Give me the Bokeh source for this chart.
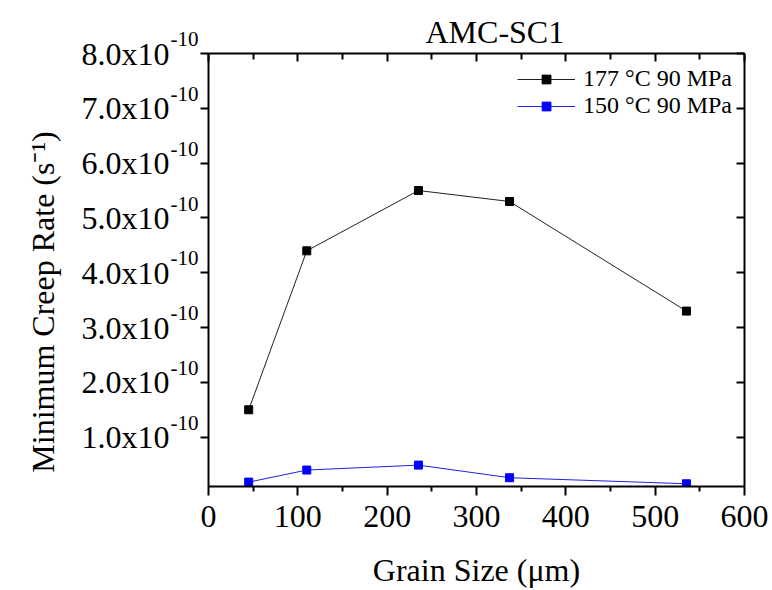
from bokeh.plotting import figure
from bokeh.models import (LinearAxis, FixedTicker, Range1d, Legend, LegendItem)
from bokeh.embed import file_html
from bokeh.resources import INLINE

# ---- data (rates in units of 1e-10 s^-1) ----
grain_size = [45, 110, 235, 337, 535]
rate_177 = [1.5, 4.4, 5.5, 5.3, 3.3]
rate_150 = [0.18, 0.40, 0.49, 0.26, 0.15]
series_names = ["177 \u00b0C 90 MPa", "150 \u00b0C 90 MPa"]

x_ticks = [0, 100, 200, 300, 400, 500, 600]
x_minor_ticks = [50, 150, 250, 350, 450, 550]
y_ticks = [1, 2, 3, 4, 5, 6, 7, 8]
y_tick_labels = ["1.0x10", "2.0x10", "3.0x10", "4.0x10", "5.0x10", "6.0x10", "7.0x10", "8.0x10"]
y_tick_exponent = "-10"

title_text = "AMC-SC1"
x_label = "Grain Size (\u03bcm)"
y_label = "Minimum Creep Rate (s\u207b\u00b9)" + "\u00a0" * 8

FONT = "Liberation Serif"
BIG = "32px"

p = figure(width=772, height=590, x_range=Range1d(0, 600), y_range=Range1d(0.1, 8),
           toolbar_location=None, output_backend="svg",
           min_border_left=208, min_border_right=28, min_border_top=53, min_border_bottom=104)
p.outline_line_color = None
p.xgrid.visible = False
p.ygrid.visible = False
p.background_fill_color = "white"
p.border_fill_color = "white"

p.title.text = title_text
p.title.align = "left"
p.title.offset = 217
p.title.vertical_align = "top"
p.title.text_font = FONT
p.title.text_font_size = BIG
p.title.text_font_style = "normal"
p.title.text_color = "black"
p.title.standoff = 4

xt = FixedTicker(ticks=x_ticks, minor_ticks=x_minor_ticks)
yt = FixedTicker(ticks=y_ticks, minor_ticks=[])

def style_axis(ax):
    ax.axis_line_width = 2
    ax.axis_line_color = "black"
    ax.major_tick_line_width = 2
    ax.minor_tick_line_width = 2
    ax.major_tick_line_color = "black"
    ax.minor_tick_line_color = "black"
    ax.major_label_text_font = FONT
    ax.major_label_text_font_size = BIG
    ax.major_label_text_color = "black"
    ax.axis_label_text_font = FONT
    ax.axis_label_text_font_size = BIG
    ax.axis_label_text_font_style = "normal"
    ax.axis_label_text_color = "black"

xa = p.xaxis[0]
xa.ticker = xt
style_axis(xa)
xa.major_tick_out = 9
xa.major_tick_in = 0
xa.minor_tick_out = 5
xa.minor_tick_in = 0
xa.major_label_standoff = 10
xa.axis_label = x_label
xa.axis_label_standoff = 22

# inner left axis: axis line, ticks and the exponent part of the tick labels
ya = p.yaxis[0]
ya.ticker = yt
style_axis(ya)
ya.major_tick_out = 8
ya.major_tick_in = 0
ya.minor_tick_line_color = None
ya.major_label_standoff = 2
ya.major_label_text_font_size = "21px"
ya.major_label_overrides = {t: y_tick_exponent + "\n" for t in y_ticks}

# outer left axis: mantissa part of the tick labels and the axis title
ya2 = LinearAxis(ticker=yt)
style_axis(ya2)
ya2.axis_line_color = None
ya2.major_tick_line_color = None
ya2.minor_tick_line_color = None
ya2.major_tick_out = 0
ya2.major_tick_in = 0
ya2.major_label_standoff = -2
ya2.major_label_overrides = {t: s for t, s in zip(y_ticks, y_tick_labels)}
ya2.axis_label = y_label
ya2.axis_label_standoff = 18
p.add_layout(ya2, "left")

top = LinearAxis(ticker=xt)
style_axis(top)
top.major_label_text_color = None
top.major_label_text_font_size = "1px"
top.major_label_standoff = 0
top.major_tick_in = 8
top.major_tick_out = 0
top.minor_tick_in = 6
top.minor_tick_out = 0
p.add_layout(top, "above")

right = LinearAxis(ticker=yt)
style_axis(right)
right.major_label_text_color = None
right.major_label_text_font_size = "1px"
right.major_label_standoff = 0
right.major_tick_in = 8
right.major_tick_out = 0
right.minor_tick_line_color = None
p.add_layout(right, "right")

l1 = p.line(grain_size, rate_177, line_color="#202020", line_width=1)
s1 = p.scatter(grain_size, rate_177, marker="square", size=8, fill_color="black", line_color="black")
l2 = p.line(grain_size, rate_150, line_color="#2020e0", line_width=1)
s2 = p.scatter(grain_size, rate_150, marker="square", size=8, fill_color="#0000ff", line_color="#0000ff")

legend = Legend(items=[LegendItem(label=series_names[0], renderers=[l1, s1]),
                       LegendItem(label=series_names[1], renderers=[l2, s2])],
                location="top_right", border_line_color=None, background_fill_alpha=0,
                label_text_font=FONT, label_text_font_size="24px", label_text_color="black",
                glyph_width=58, glyph_height=22, label_standoff=8, spacing=0,
                padding=0, margin=12)
p.add_layout(legend)

open("out.html", "w").write(file_html(p, INLINE))
